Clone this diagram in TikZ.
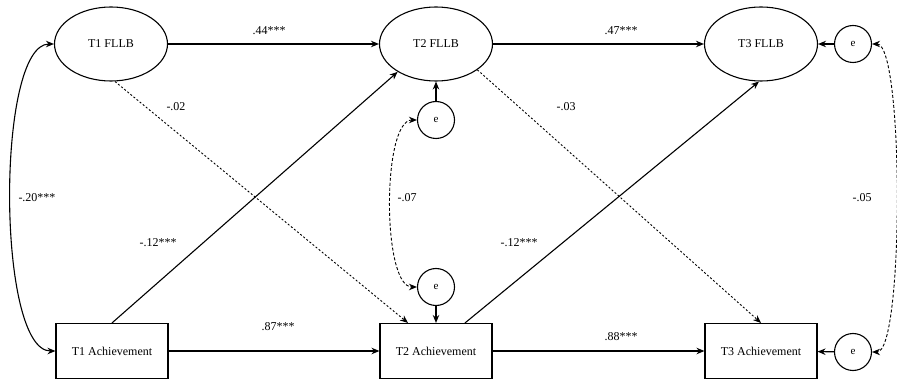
\documentclass[tikz,border=0pt]{standalone}
\usepackage{fontspec}
\setmainfont{Liberation Serif}
\usetikzlibrary{shapes.geometric,arrows.meta}

\begin{document}
\begin{tikzpicture}[x=1pt,y=-1pt,
  font=\fontsize{12}{14}\selectfont,
  line width=1.1pt,
  latent/.style={ellipse,draw,minimum width=113pt,minimum height=74pt,inner sep=0pt},
  observed/.style={rectangle,draw,minimum width=112pt,minimum height=55pt,inner sep=0pt},
  resid/.style={circle,draw,minimum size=37pt,inner sep=0pt,font=\fontsize{11}{13}\selectfont},
  tip/.tip={Stealth[length=8pt,width=6.5pt]},
  arr/.style={-tip},
  narr/.style={-tip,line width=0.9pt,dash pattern=on 2pt off 2pt},
  cov/.style={tip-tip},
  ncov/.style={tip-tip,line width=0.9pt,dash pattern=on 3pt off 2pt},
  coef/.style={inner sep=0pt}]

\useasboundingbox (0,0) rectangle (897,379);

% latent factors
\node[latent] (f1) at (111,44) {T1 FLLB};
\node[latent] (f2) at (436,44) {T2 FLLB};
\node[latent] (f3) at (761,44) {T3 FLLB};

% observed achievement
\node[observed] (a1) at (112,351) {T1 Achievement};
\node[observed] (a2) at (436,351) {T2 Achievement};
\node[observed] (a3) at (761,351) {T3 Achievement};

% residuals
\node[resid] (e2f) at (436,120) {e};
\node[resid] (e2a) at (436,287) {e};
\node[resid] (e3f) at (853,44) {e};
\node[resid] (e3a) at (853,352) {e};

% autoregressive paths
\draw[arr] (f1) -- (f2);
\draw[arr] (f2) -- (f3);
\draw[arr] (a1) -- (a2);
\draw[arr] (a2) -- (a3);

% cross-lagged paths
\draw[narr] ([xshift=4pt]f1.south) -- ([xshift=-28pt]a2.north);
\draw[arr] (a1.north) -- (f2.216);
\draw[narr] (f2.-32) -- (a3.north);
\draw[arr] ([xshift=29pt]a2.north) -- ([xshift=-2pt]f3.south);

% residual paths
\draw[arr] (e2f) -- (f2);
\draw[arr] (e2a) -- (a2);
\draw[arr] (e3f) -- (f3);
\draw[arr] (e3a) -- (a3);

% covariances
\draw[cov] (f1.west) .. controls ([xshift=-58pt]f1.west) and ([xshift=-59pt]a1.west) .. (a1.west);
\draw[ncov] (e2f.west) .. controls ([xshift=-35pt]e2f.west) and ([xshift=-35pt]e2a.west) .. (e2a.west);
\draw[ncov] (e3f.east) .. controls ([xshift=32pt]e3f.east) and ([xshift=32pt]e3a.east) .. (e3a.east);

% coefficients
\node[coef] (c1) at (269,31) {.44***};
\node[coef] (c2) at (621,31) {.47***};
\node[coef] (c3) at (176,107) {-.02};
\node[coef] (c4) at (566,107) {-.03};
\node[coef] (c5) at (37,198) {-.20***};
\node[coef] (c6) at (407,198) {-.07};
\node[coef] (c7) at (862,198) {-.05};
\node[coef] (c8) at (158,243) {-.12***};
\node[coef] (c9) at (519,243) {-.12***};
\node[coef] (c10) at (278,327) {.87***};
\node[coef] (c11) at (621,337) {.88***};
\end{tikzpicture}
\end{document}
